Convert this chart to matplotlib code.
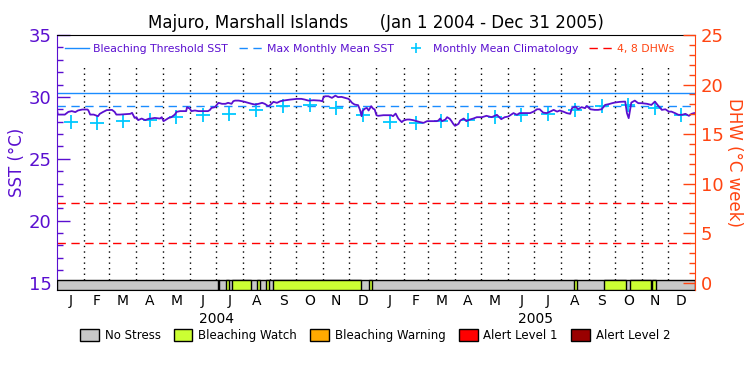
import numpy as np
import matplotlib
matplotlib.use('Agg')
import matplotlib.pyplot as plt
from matplotlib.lines import Line2D
from matplotlib.patches import Patch
from matplotlib.ticker import MultipleLocator

# data (days since Jan 1 2004, SST in degC)
sst_day = [0, 1, 9, 13, 17, 21, 24, 29, 35, 36, 38, 42, 44, 47, 49, 53, 57, 63, 66, 68,
           72, 84, 86, 89, 91, 93, 97, 101, 105, 108, 112, 118, 120, 122, 124, 128, 131, 135, 137, 141,
           148, 149, 152, 154, 158, 162, 173, 175, 177, 181, 185, 189, 193, 196, 200, 202, 204, 208, 212, 215,
           219, 223, 227, 231, 235, 238, 242, 244, 248, 252, 256, 259, 267, 275, 280, 284, 288, 294, 301, 304,
           305, 307, 311, 315, 319, 322, 326, 330, 334, 336, 338, 341, 345, 347, 349, 350, 353, 355, 357, 360,
           362, 364, 366, 368, 374, 383, 385, 388, 391, 395, 397, 401, 404, 408, 412, 416, 420, 424, 429, 435,
           437, 439, 441, 445, 447, 450, 452, 454, 456, 460, 462, 466, 469, 473, 477, 481, 487, 492, 498, 504,
           509, 513, 517, 523, 527, 530, 536, 542, 546, 550, 553, 557, 561, 565, 569, 573, 576, 580, 584, 588,
           590, 594, 597, 601, 605, 607, 611, 616, 620, 624, 628, 632, 636, 639, 645, 651, 653, 655, 657, 658,
           662, 666, 670, 676, 681, 685, 689, 693, 697, 701, 704, 708, 712, 716, 720, 724, 727, 730]
sst_val = [28.98, 28.57, 28.57, 28.79, 28.85, 28.77, 28.90, 28.98, 28.98, 28.90, 28.57, 28.57, 28.52, 28.44, 28.63, 28.79, 28.93, 28.95, 28.79, 28.57,
           28.57, 28.63, 28.71, 28.30, 28.36, 28.12, 28.25, 28.12, 28.23, 28.25, 28.30, 28.25, 28.36, 28.04, 28.12, 28.30, 28.36, 28.57, 28.79, 28.85,
           28.85, 29.17, 29.06, 28.85, 28.90, 28.85, 28.85, 28.93, 29.11, 29.17, 29.52, 29.44, 29.44, 29.52, 29.44, 29.65, 29.70, 29.70, 29.65, 29.60,
           29.52, 29.44, 29.38, 29.44, 29.52, 29.44, 29.25, 29.33, 29.60, 29.52, 29.65, 29.70, 29.78, 29.84, 29.84, 29.78, 29.70, 29.73, 29.70, 29.65,
           29.92, 30.05, 30.05, 29.92, 30.10, 29.98, 30.00, 29.92, 29.84, 29.70, 29.52, 29.38, 29.33, 28.98, 28.44, 28.87, 29.06, 29.11, 28.90, 29.25,
           29.06, 28.98, 28.52, 28.47, 28.52, 28.52, 28.44, 28.65, 28.25, 27.96, 28.09, 28.17, 28.17, 28.12, 28.04, 27.96, 27.90, 28.04, 28.04, 28.04,
           28.09, 28.25, 28.04, 28.17, 28.36, 28.23, 28.04, 27.82, 27.66, 27.82, 28.09, 28.25, 28.04, 28.17, 28.25, 28.36, 28.36, 28.47, 28.36, 28.55,
           28.20, 28.36, 28.41, 28.69, 28.55, 28.69, 28.69, 28.69, 28.81, 29.00, 29.00, 28.73, 28.69, 28.81, 28.95, 28.81, 28.90, 28.81, 28.69, 28.63,
           29.09, 29.22, 29.00, 29.17, 29.09, 29.27, 29.00, 28.95, 28.95, 29.00, 29.35, 29.41, 29.49, 29.54, 29.60, 29.62, 28.69, 28.28, 29.09, 29.54,
           29.70, 29.49, 29.49, 29.44, 29.35, 29.62, 29.27, 28.95, 29.00, 28.81, 28.81, 28.69, 28.55, 28.55, 28.63, 28.47, 28.63, 28.69]

clim = [28.0, 27.87, 28.02, 28.12, 28.4, 28.55, 28.6, 28.92, 29.28, 29.32, 29.13, 28.5]
mmm = 29.3
threshold = 30.3
dhw_lines = [4, 8]

# bleaching watch periods (start day, end day)
watch = [(184, 186), (194, 197), (201, 222), (229, 233), (240, 243), (247, 348), (357, 361),
         (592, 596), (627, 652), (656, 680), (682, 686)]

month_letters = ['J', 'F', 'M', 'A', 'M', 'J', 'J', 'A', 'S', 'O', 'N', 'D']
years = ['2004', '2005']

stress_names = ['No Stress', 'Bleaching Watch', 'Bleaching Warning', 'Alert Level 1', 'Alert Level 2']
stress_colors = ['#c8c8c8', '#ccff33', '#ffaa00', '#ff0000', '#990000']

purple = '#5a0fd0'
blue = '#1a8cff'
cyan = '#00c8ff'
orange = '#ff4411'

start = np.datetime64('2004-01-01')
months = np.arange('2004-01', '2006-01', dtype='datetime64[M]')
m_start = (months.astype('datetime64[D]') - start).astype(int)
m_end = ((months + 1).astype('datetime64[D]') - start).astype(int)
m_mid = (m_start + m_end) / 2
ndays = int(m_end[-1])

fig = plt.figure(figsize=(7.5, 3.75), dpi=100)
ax = fig.add_axes([0.076, 0.2267, 0.8507, 0.68])
ax.set_xlim(0, ndays)
ax.set_ylim(14.4, 35)

# month separators
for d in m_start[1:]:
    ax.plot([d, d], [15.2, 32.6], color='black', ls=(0, (1, 3)), lw=1.0)

ax.axhline(threshold, color=blue, lw=1.0)
ax.axhline(mmm, color=blue, lw=1.0, ls=(0, (6, 4)))
for v in dhw_lines:
    ax.axhline(15 + v / 1.25, color='#ff0000', lw=1.0, ls=(0, (6, 4)))

ax.plot(m_mid, clim * 2, ls='none', marker='+', ms=10, mew=1.3, color=cyan)
ax.plot(sst_day, sst_val, color=purple, lw=1.3)

# stress bar
ax.bar(0, 0.8, width=ndays, bottom=14.4, align='edge', color=stress_colors[0],
       edgecolor='black', lw=1.0, zorder=3)
for a, b in watch:
    ax.bar(a, 0.8, width=b - a, bottom=14.4, align='edge', color=stress_colors[1],
           edgecolor='black', lw=1.0, zorder=4)

# axes styling
ax.set_xticks([])
for s in ['top', 'bottom']:
    ax.spines[s].set_color('black')
ax.spines['left'].set_color(purple)
ax.spines['right'].set_visible(False)
ax.yaxis.set_major_locator(MultipleLocator(5))
ax.yaxis.set_minor_locator(MultipleLocator(1))
ax.tick_params(axis='y', which='major', direction='in', length=9, width=1, colors=purple,
               labelsize=13, pad=4)
ax.tick_params(axis='y', which='minor', direction='in', length=4.5, width=1, colors=purple)
ax.set_ylabel('SST (°C)', color=purple, fontsize=12, labelpad=2)

ax2 = ax.twinx()
ax2.set_ylim((14.4 - 15) * 1.25, 25)
ax2.spines['right'].set_color(orange)
for s in ['top', 'bottom', 'left']:
    ax2.spines[s].set_visible(False)
ax2.yaxis.set_major_locator(MultipleLocator(5))
ax2.yaxis.set_minor_locator(MultipleLocator(1))
ax2.tick_params(axis='y', which='major', direction='in', length=9, width=1, colors=orange,
                labelsize=13, pad=4)
ax2.tick_params(axis='y', which='minor', direction='in', length=4.5, width=1, colors=orange)
ax2.set_ylabel('DHW (°C week)', color=orange, fontsize=12, rotation=-90, labelpad=14)

# month and year labels
for i, mid in enumerate(m_mid):
    ax.text(mid, -0.015, month_letters[i % 12], transform=ax.get_xaxis_transform(),
            ha='center', va='top', fontsize=10)
for k, yr in enumerate(years):
    ax.text((m_start[12 * k] + m_end[12 * k + 11]) / 2, -0.085, yr,
            transform=ax.get_xaxis_transform(), ha='center', va='top', fontsize=10)

ax.set_title('Majuro, Marshall Islands      (Jan 1 2004 - Dec 31 2005)', fontsize=12, pad=5)

handles = [Line2D([], [], color=blue, lw=1),
           Line2D([], [], color=blue, lw=1, ls=(0, (6, 4))),
           Line2D([], [], color=cyan, ls='none', marker='+', ms=7, mew=1.2),
           Line2D([], [], color='#ff0000', lw=1, ls=(0, (6, 4)))]
labels = ['Bleaching Threshold SST', 'Max Monthly Mean SST', 'Monthly Mean Climatology', '4, 8 DHWs']
leg = ax.legend(handles, labels, ncol=4, loc='upper center', bbox_to_anchor=(0.49, 1.0),
                frameon=False, fontsize=7.8, handlelength=2.2, handletextpad=0.4,
                columnspacing=1.0, borderaxespad=0.4)
for t, c in zip(leg.get_texts(), [purple, purple, purple, orange]):
    t.set_color(c)

patches = [Patch(facecolor=c, edgecolor='black', lw=1) for c in stress_colors]
fig.legend(patches, stress_names, ncol=5, loc='center', bbox_to_anchor=(0.5, 0.105),
           frameon=False, fontsize=8.5, handlelength=1.6, handleheight=1.1,
           handletextpad=0.5, columnspacing=1.1)

fig.savefig('out.png', dpi=100)
